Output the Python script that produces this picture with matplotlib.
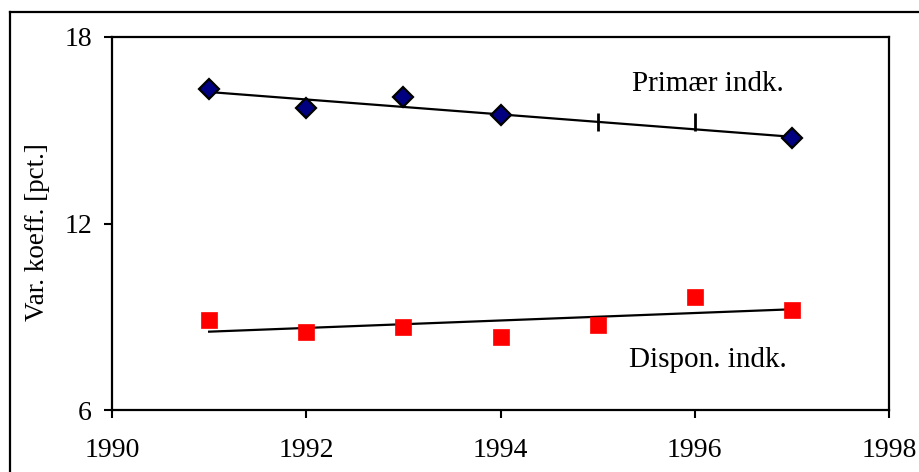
import matplotlib
matplotlib.use("Agg")
import matplotlib.pyplot as plt
from matplotlib.lines import Line2D

plt.rcParams['font.family'] = ['Liberation Serif', 'DejaVu Serif']

# data
years = [1991, 1992, 1993, 1994, 1995, 1996, 1997]
primaer = [16.32, 15.73, 16.06, 15.49, 15.25, 15.25, 14.75]
dispon = [8.90, 8.50, 8.66, 8.35, 8.73, 9.63, 9.21]
trend_years = [1991, 1997]
primaer_trend = [16.23, 14.79]
dispon_trend = [8.52, 9.24]
# years where the primary-income point shows as a dash instead of a diamond
dash_years = [1995, 1996]

fig = plt.figure(figsize=(9.2, 4.72), dpi=100)
ax = fig.add_axes([112/920, 1-410/472, (889-112)/920, (410-37)/472])

# outer chart frame (cropped on the right and bottom)
fig.add_artist(Line2D([10/920, 1.0], [1-12/472, 1-12/472], color='black', lw=1.6,
                      transform=fig.transFigure))
fig.add_artist(Line2D([10/920, 10/920], [0, 1-12/472], color='black', lw=1.6,
                      transform=fig.transFigure))

# trend lines
ax.plot(trend_years, primaer_trend, color='black', lw=1.6, zorder=2)
ax.plot(trend_years, dispon_trend, color='black', lw=1.6, zorder=2)

# primary income points
dx = [y for y in years if y not in dash_years]
dy = [v for y, v in zip(years, primaer) if y not in dash_years]
tx = [y for y in years if y in dash_years]
ty = [v for y, v in zip(years, primaer) if y in dash_years]
ax.plot(dx, dy, linestyle='none', marker='D', markersize=10,
        markerfacecolor='#000080', markeredgecolor='black', markeredgewidth=1.6, zorder=3)
ax.plot(tx, ty, linestyle='none', marker='|', markersize=13,
        markeredgecolor='black', markeredgewidth=2, zorder=3)

# disposable income points
ax.plot(years, dispon, linestyle='none', marker='s', markersize=12,
        markerfacecolor='#ff0000', markeredgecolor='#ff0000', markeredgewidth=0.5, zorder=3)

ax.text(1996.13, 16.5, 'Primær indk.', fontsize=21, ha='center', va='center')
ax.text(1996.13, 7.6, 'Dispon. indk.', fontsize=21, ha='center', va='center')

ax.set_xlim(1990, 1998)
ax.set_ylim(6, 18)
ax.set_xticks([1990, 1992, 1994, 1996, 1998])
ax.set_yticks([6, 12, 18])
ax.tick_params(axis='both', direction='out', length=5.5, width=1.5, labelsize=20)
ax.tick_params(axis='y', pad=9)
ax.tick_params(axis='x', pad=15)
for s in ax.spines.values():
    s.set_linewidth(1.6)
ax.set_ylabel('Var. koeff. [pct.]', fontsize=19.5)
ax.yaxis.set_label_coords(-0.08, 0.477)

fig.savefig('out.png', dpi=100)
